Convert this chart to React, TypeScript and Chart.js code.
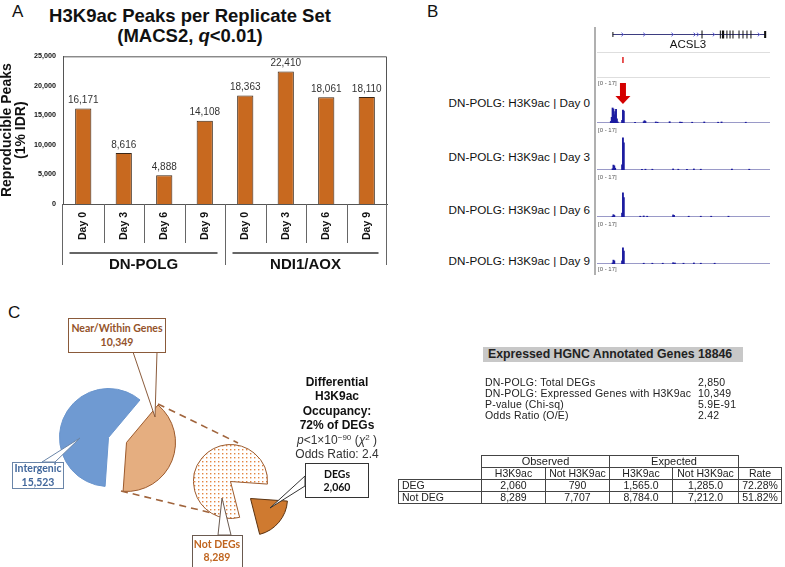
import React, { useEffect, useRef } from 'react';
import { Chart, registerables } from 'chart.js';

Chart.register(...registerables);

const FONT = '"Liberation Sans", Arial, Helvetica, sans-serif';
const CALLOUT_FONT = 'Lato, "Open Sans", sans-serif';
Chart.defaults.font.family = FONT;

// ---------------- Panel A data ----------------
const DAY_LABELS = ['Day 0', 'Day 3', 'Day 6', 'Day 9', 'Day 0', 'Day 3', 'Day 6', 'Day 9'];
const GROUP_LABELS = ['DN-POLG', 'NDI1/AOX'];
const GROUP_SIZE = 4;
const PEAK_COUNTS = [16171, 8616, 4888, 14108, 18363, 22410, 18061, 18110];
const Y_TICKS = [0, 5000, 10000, 15000, 20000, 25000];
const Y_TITLE = ['Reproducible Peaks', '(1% IDR)'];

// ---------------- Panel B data ----------------
const TRACK_LABELS = [
  'DN-POLG: H3K9ac | Day 0',
  'DN-POLG: H3K9ac | Day 3',
  'DN-POLG: H3K9ac | Day 6',
  'DN-POLG: H3K9ac | Day 9',
];
const TRACK_RANGE = '[0 - 17]';
const TRACK_MAX = 17;
const REGION_MIN = 0;
const REGION_MAX = 100;
const GENE_NAME = 'ACSL3';
const GENE_SPAN = [9.1, 97.6];
// [start, end, height]
const GENE_EXONS = [
  [8.9, 9.4, 5], [60.4, 61.0, 8], [71.0, 71.6, 8], [72.2, 73.5, 8], [74.8, 75.4, 8],
  [76.6, 77.2, 8], [78.3, 78.9, 8], [81.8, 82.3, 8], [84.1, 84.6, 8], [86.4, 86.9, 8],
  [88.7, 89.2, 8], [96.6, 97.8, 7],
];
const GENE_ARROWS = [14.7, 27.3, 43.6, 56.4, 58.3, 67.5, 93.5];
const PEAK_CALLS = [15];
const ARROW_AT = 15;
const DAY0_SIGNAL = [
  [8, 0.6], [8.5, 2.2], [9, 5.8], [9.5, 5.4], [10, 3.2], [10.5, 4.4], [11, 5.3], [11.5, 1.6], [12, 0.4],
  [14.5, 1.0], [15, 5.0], [15.5, 4.6], [22, 0.3], [27, 0.5], [27.5, 0.9], [28, 0.6], [34, 0.4], [35, 0.3],
  [42, 0.5], [48, 0.4], [49, 0.3], [55, 0.3], [62, 0.4], [70, 0.3], [72, 0.4], [86, 0.3],
];
const DAY3_SIGNAL = [
  [9, 0.5], [9.5, 1.9], [10, 1.6], [10.5, 0.7], [14.5, 2.0], [15, 12.4], [15.5, 10.5],
  [26, 0.3], [28, 0.3], [32, 0.3], [44, 0.4], [47, 0.3], [52, 0.3], [56, 0.4], [60, 0.3], [78, 0.4], [88, 0.3],
];
const DAY6_SIGNAL = [
  [9, 0.3], [9.5, 0.9], [10, 0.6], [14.5, 1.5], [15, 9.3], [15.5, 7.5],
  [25, 0.3], [27, 0.4], [29, 0.3], [44, 0.8], [44.5, 0.6], [53, 0.3], [60, 0.3], [66, 0.3], [76, 0.3],
];
const DAY9_SIGNAL = [
  [9, 0.4], [9.5, 1.5], [10, 1.2], [14.5, 1.2], [15, 6.2], [15.5, 5.0],
  [27, 0.3], [32, 0.3], [38, 0.3], [44, 0.5], [45, 0.4], [50, 0.3], [56, 0.4], [60, 0.3], [68, 0.3],
];
const TRACK_SIGNALS = [DAY0_SIGNAL, DAY3_SIGNAL, DAY6_SIGNAL, DAY9_SIGNAL];

// ---------------- Panel C data ----------------
const PIE1_LABELS = ['Near/Within Genes', 'Intergenic'];
const PIE1_VALUES = [10349, 15523];
const PIE2_LABELS = ['DEGs', 'Not DEGs'];
const PIE2_VALUES = [2060, 8289];
const STATS_HEADER = 'Expressed HGNC Annotated Genes 18846';
const STATS_LABELS = [
  'DN-POLG: Total DEGs',
  'DN-POLG: Expressed Genes with H3K9ac',
  'P-value (Chi-sq)',
  'Odds Ratio (O/E)',
];
const STATS_VALUES = ['2,850', '10,349', '5.9E-91', '2.42'];
const TABLE_ROWS = ['DEG', 'Not DEG'];
const OBS_H3K9AC = ['2,060', '8,289'];
const OBS_NOT = ['790', '7,707'];
const EXP_H3K9AC = ['1,565.0', '8,784.0'];
const EXP_NOT = ['1,285.0', '7,212.0'];
const RATE = ['72.28%', '51.82%'];

// ---------------- helpers ----------------
type MakeCfg = (c: HTMLCanvasElement) => any;

function ChartBox({ x, y, w, h, make }: { x: number; y: number; w: number; h: number; make: MakeCfg }) {
  const ref = useRef<HTMLCanvasElement>(null);
  useEffect(() => {
    const c = ref.current as HTMLCanvasElement;
    const chart = new Chart(c, make(c));
    return () => chart.destroy();
  }, []);
  return (
    <div style={{ position: 'absolute', left: x, top: y, width: w, height: h }}>
      <canvas ref={ref} width={w} height={h} style={{ width: w, height: h, display: 'block' }} />
    </div>
  );
}

function Txt(props: any) {
  const { x, y, size = 12, weight = 'normal', align = 'left', color = '#111', family = FONT, style = {}, children } = props;
  const tx = align === 'center' ? '-50%' : align === 'right' ? '-100%' : '0';
  return (
    <div
      style={{
        position: 'absolute', left: x, top: y, transform: `translate(${tx},-50%)`, fontSize: size,
        fontWeight: weight, color, fontFamily: family, whiteSpace: 'nowrap', lineHeight: 1, ...style,
      }}
    >
      {children}
    </div>
  );
}

// ---------------- Panel A chart ----------------
const panelAPlugin = {
  id: 'panelA',
  afterDraw(chart: any) {
    const { ctx, chartArea: a } = chart;
    const x = chart.scales.x;
    const n = DAY_LABELS.length;
    ctx.save();
    ctx.strokeStyle = '#555';
    ctx.lineWidth = 1;
    ctx.beginPath();
    ctx.moveTo(a.left, a.top + 0.5);
    ctx.lineTo(a.right - 0.5, a.top + 0.5);
    ctx.lineTo(a.right - 0.5, a.bottom);
    ctx.stroke();
    const bound = (i: number) =>
      i === 0 ? a.left - 0.5 : i === n ? a.right - 0.5 : Math.round((x.getPixelForValue(i - 1) + x.getPixelForValue(i)) / 2) + 0.5;
    ctx.strokeStyle = '#666';
    for (let i = 0; i <= n; i++) {
      const bx = bound(i);
      const len = i % GROUP_SIZE === 0 ? 61 : 39;
      ctx.beginPath();
      ctx.moveTo(bx, a.bottom);
      ctx.lineTo(bx, a.bottom + len);
      ctx.stroke();
    }
    // group lines + labels
    for (let g = 0; g < GROUP_LABELS.length; g++) {
      const x0 = bound(g * GROUP_SIZE) + 7;
      const x1 = bound((g + 1) * GROUP_SIZE) - 8;
      ctx.strokeStyle = '#333';
      ctx.lineWidth = 1.5;
      ctx.beginPath();
      ctx.moveTo(x0, a.bottom + 49);
      ctx.lineTo(x1, a.bottom + 49);
      ctx.stroke();
      ctx.fillStyle = '#111';
      ctx.font = `bold 15px ${FONT}`;
      ctx.textAlign = 'center';
      ctx.textBaseline = 'middle';
      ctx.fillText(GROUP_LABELS[g], (x0 + x1) / 2, a.bottom + 61);
    }
    // value labels
    const meta = chart.getDatasetMeta(0);
    ctx.fillStyle = '#333';
    ctx.font = `10px ${FONT}`;
    ctx.textAlign = 'center';
    ctx.textBaseline = 'bottom';
    meta.data.forEach((el: any, i: number) => {
      ctx.fillText(PEAK_COUNTS[i].toLocaleString('en-US'), el.x, el.y - 3);
    });
    ctx.restore();
  },
};

const makeBarChart: MakeCfg = () => ({
  type: 'bar',
  data: {
    labels: DAY_LABELS,
    datasets: [
      {
        data: PEAK_COUNTS,
        backgroundColor: '#C8691F',
        borderColor: '#3a2616',
        borderWidth: 1,
        barPercentage: 0.4,
        categoryPercentage: 1,
      },
    ],
  },
  options: {
    animation: false,
    responsive: false,
    maintainAspectRatio: false,
    layout: { padding: { top: 9, right: 5, left: 0, bottom: 0 } },
    plugins: { legend: { display: false }, tooltip: { enabled: false } },
    scales: {
      x: {
        grid: { display: false, drawTicks: false },
        border: { display: true, color: '#555', width: 1 },
        ticks: { maxRotation: 90, minRotation: 90, padding: 8, autoSkip: false, color: '#111', font: { size: 10.5, weight: 'bold' } },
        afterFit: (s: any) => { s.height = 71; },
      },
      y: {
        min: Y_TICKS[0],
        max: Y_TICKS[Y_TICKS.length - 1],
        ticks: { stepSize: Y_TICKS[1] - Y_TICKS[0], padding: 7, color: '#111', font: { size: 7.2, weight: 'bold' } },
        grid: { display: false, drawTicks: false },
        border: { display: true, color: '#555', width: 1 },
        title: { display: true, text: Y_TITLE, color: '#111', font: { size: 14, weight: 'bold', lineHeight: 1 }, padding: { top: 0, bottom: 0 } },
        afterFit: (s: any) => { s.width = 63; },
      },
    },
  },
  plugins: [panelAPlugin],
});

// ---------------- Panel B charts ----------------
const genePlugin = {
  id: 'gene',
  afterDraw(chart: any) {
    const { ctx, width } = chart;
    const x = chart.scales.x;
    const px = (v: number) => x.getPixelForValue(v);
    ctx.save();
    ctx.strokeStyle = '#dedede';
    ctx.lineWidth = 1;
    [25.5, 50.5].forEach((yy) => {
      ctx.beginPath();
      ctx.moveTo(0, yy);
      ctx.lineTo(width, yy);
      ctx.stroke();
    });
    const gy = 7.5;
    ctx.strokeStyle = '#3d3d80';
    ctx.beginPath();
    ctx.moveTo(px(GENE_SPAN[0]), gy);
    ctx.lineTo(px(GENE_SPAN[1]), gy);
    ctx.stroke();
    ctx.strokeStyle = '#5a5ad8';
    GENE_ARROWS.forEach((a) => {
      const ax = px(a);
      ctx.beginPath();
      ctx.moveTo(ax - 1, gy - 1.8);
      ctx.lineTo(ax + 1, gy);
      ctx.lineTo(ax - 1, gy + 1.8);
      ctx.stroke();
    });
    ctx.fillStyle = '#111';
    GENE_EXONS.forEach(([s, e, h]) => {
      ctx.fillRect(px(s), gy - h / 2, Math.max(1, px(e) - px(s)), h);
    });
    ctx.fillStyle = '#e02020';
    PEAK_CALLS.forEach((p) => ctx.fillRect(px(p) - 0.75, 30, 1.5, 6));
    ctx.restore();
  },
};

const makeGeneChart: MakeCfg = () => ({
  type: 'scatter',
  data: { datasets: [{ data: [] }] },
  options: {
    animation: false,
    responsive: false,
    layout: { padding: 0 },
    plugins: { legend: { display: false }, tooltip: { enabled: false } },
    scales: {
      x: { type: 'linear', min: REGION_MIN, max: REGION_MAX, display: false },
      y: { min: 0, max: 1, display: false },
    },
  },
  plugins: [genePlugin],
});

const makeTrackChart = (idx: number): MakeCfg => () => ({
  type: 'bar',
  data: {
    datasets: [
      {
        data: TRACK_SIGNALS[idx].map(([x, y]) => ({ x, y })),
        backgroundColor: '#1c1ca0',
        borderWidth: 0,
        barThickness: 1.2,
      },
    ],
  },
  options: {
    animation: false,
    responsive: false,
    layout: { padding: 0 },
    plugins: { legend: { display: false }, tooltip: { enabled: false } },
    scales: {
      x: { type: 'linear', min: REGION_MIN, max: REGION_MAX, offset: false, display: false },
      y: { min: 0, max: TRACK_MAX, display: false },
    },
  },
  plugins: [
    {
      id: 'track' + idx,
      beforeDatasetsDraw(chart: any) {
        const { ctx, chartArea: a } = chart;
        ctx.save();
        ctx.strokeStyle = '#9a9ac8';
        ctx.lineWidth = 1;
        ctx.beginPath();
        ctx.moveTo(a.left, a.bottom - 0.5);
        ctx.lineTo(a.right, a.bottom - 0.5);
        ctx.stroke();
        ctx.fillStyle = '#555';
        ctx.font = `6px ${FONT}`;
        ctx.textAlign = 'left';
        ctx.textBaseline = 'top';
        ctx.fillText(TRACK_RANGE, 1, 1);
        ctx.restore();
      },
      afterDatasetsDraw(chart: any) {
        if (idx !== 0) return;
        const { ctx } = chart;
        const ax = chart.scales.x.getPixelForValue(ARROW_AT);
        ctx.save();
        ctx.fillStyle = '#d40000';
        ctx.fillRect(ax - 3, 4, 6, 14);
        ctx.beginPath();
        ctx.moveTo(ax - 7.5, 17);
        ctx.lineTo(ax + 7.5, 17);
        ctx.lineTo(ax, 25);
        ctx.closePath();
        ctx.fill();
        ctx.restore();
      },
    },
  ],
});

// ---------------- Panel C pies ----------------
const makePie = (
  values: number[], labels: string[], colors: any[], borders: string[], show: number, rotation: number, dotted: number,
): MakeCfg => (c) => {
  const bg = colors.slice();
  if (dotted >= 0) {
    const pc = document.createElement('canvas');
    pc.width = 4;
    pc.height = 4;
    const g = pc.getContext('2d') as CanvasRenderingContext2D;
    g.fillStyle = '#ffffff';
    g.fillRect(0, 0, 4, 4);
    g.fillStyle = '#e3843f';
    g.fillRect(1, 1, 1.4, 1.4);
    const ctx = c.getContext('2d') as CanvasRenderingContext2D;
    bg[dotted] = ctx.createPattern(pc, 'repeat');
  }
  return {
    type: 'pie',
    data: {
      labels,
      datasets: [
        {
          data: values,
          backgroundColor: bg.map((col, i) => (i === show ? col : 'rgba(0,0,0,0)')),
          borderColor: borders.map((col, i) => (i === show ? col : 'rgba(0,0,0,0)')),
          borderWidth: values.map((_, i) => (i === show ? 1 : 0)),
          hoverOffset: 0,
        },
      ],
    },
    options: {
      animation: false,
      responsive: false,
      rotation,
      layout: { padding: 0 },
      plugins: { legend: { display: false }, tooltip: { enabled: false } },
    },
  };
};

const PIE1_COLORS = ['#E5AE80', '#6F9AD2'];
const PIE1_BORDERS = ['#9C5A2C', '#6A95CD'];
const PIE2_COLORS = ['#CF7A30', '#ffffff'];
const PIE2_BORDERS = ['#5a3210', '#9C5A2C'];

const cell: React.CSSProperties = { border: '1px solid #444', padding: 0, textAlign: 'center', height: 11, lineHeight: '11px' };
const noCell: React.CSSProperties = { border: 'none', padding: 0 };

export default function App() {
  return (
    <div
      style={{
        position: 'absolute', left: 0, top: 0, width: 785, height: 567, background: '#fff', overflow: 'hidden',
        fontFamily: FONT, color: '#111',
      }}
    >
      {/* Panel A */}
      <Txt x={12} y={11} size={17}>A</Txt>
      <Txt x={190} y={16} size={18.5} weight="bold" align="center">H3K9ac Peaks per Replicate Set</Txt>
      <Txt x={190} y={36} size={18.5} weight="bold" align="center">
        (MACS2, <i>q</i>&lt;0.01)
      </Txt>
      <ChartBox x={0} y={45} w={392} h={230} make={makeBarChart} />

      {/* Panel B */}
      <Txt x={427} y={11} size={17}>B</Txt>
      <div style={{ position: 'absolute', left: 594, top: 27, width: 2, height: 248, background: '#b0b0b0' }} />
      <ChartBox x={597} y={27} w={173} h={52} make={makeGeneChart} />
      <Txt x={688} y={45} size={11.5} align="center">{GENE_NAME}</Txt>
      {[79, 126, 173, 220].map((t, i) => (
        <ChartBox key={i} x={597} y={t} w={173} h={44} make={makeTrackChart(i)} />
      ))}
      {[103, 157, 210, 261].map((yy, i) => (
        <Txt key={i} x={590} y={yy} size={11.7} align="right">{TRACK_LABELS[i]}</Txt>
      ))}
      <div style={{ position: 'absolute', left: 598, top: 266, fontSize: 6, color: '#555', lineHeight: 1 }}>{TRACK_RANGE}</div>

      {/* Panel C */}
      <Txt x={8} y={312} size={17}>C</Txt>
      <ChartBox x={58.5} y={387.5} w={99} h={99} make={makePie(PIE1_VALUES, PIE1_LABELS, PIE1_COLORS, PIE1_BORDERS, 1, 40, -1)} />
      <ChartBox x={76.5} y={392.5} w={99} h={99} make={makePie(PIE1_VALUES, PIE1_LABELS, PIE1_COLORS, PIE1_BORDERS, 0, 40, -1)} />
      <ChartBox x={192.5} y={443.5} w={75} h={75} make={makePie(PIE2_VALUES, PIE2_LABELS, PIE2_COLORS, PIE2_BORDERS, 1, 94, 1)} />
      <ChartBox x={212.5} y={460.5} w={75} h={75} make={makePie(PIE2_VALUES, PIE2_LABELS, PIE2_COLORS, PIE2_BORDERS, 0, 94, -1)} />

      <svg width={785} height={567} style={{ position: 'absolute', left: 0, top: 0, pointerEvents: 'none' }}>
        <g stroke="#a0643c" strokeWidth={1.6} strokeDasharray="7 5" fill="none">
          <line x1={158} y1={404} x2={238} y2={443} />
          <line x1={121} y1={491} x2={216} y2={514} />
        </g>
        {/* Near/Within callout */}
        <polygon points="133,352 155,417 157,352" fill="#fff" stroke="#8a5a3a" strokeWidth={1} />
        <rect x={68.5} y={318.5} width={97} height={34} fill="#fff" stroke="#8a5a3a" strokeWidth={1} />
        {/* Intergenic callout */}
        <polygon points="42,462 80,438 55,462" fill="#fff" stroke="#6a85a8" strokeWidth={1} />
        <rect x={12.5} y={462.5} width={51} height={26} fill="#fff" stroke="#6a85a8" strokeWidth={1} />
        {/* Not DEGs callout */}
        <polygon points="218,535 222,498 231,535" fill="#fff" stroke="#6a5a50" strokeWidth={1} />
        <rect x={192.5} y={535.5} width={50} height={33} fill="#fff" stroke="#6a5a50" strokeWidth={1} />
        {/* DEGs callout */}
        <polygon points="305,476 270,508 305,486" fill="#fff" stroke="#333" strokeWidth={1} />
        <rect x={305.5} y={463.5} width={63} height={34} fill="#fff" stroke="#333" strokeWidth={1} />
      </svg>

      <Txt x={117} y={328} size={10.5} weight="bold" align="center" color="#94532a" family={CALLOUT_FONT}>{PIE1_LABELS[0]}</Txt>
      <Txt x={117} y={342} size={10.5} weight="bold" align="center" color="#94532a" family={CALLOUT_FONT}>{PIE1_VALUES[0].toLocaleString('en-US')}</Txt>
      <Txt x={38} y={468} size={10.5} weight="bold" align="center" color="#41679c" family={CALLOUT_FONT}>{PIE1_LABELS[1]}</Txt>
      <Txt x={38} y={482} size={10.5} weight="bold" align="center" color="#41679c" family={CALLOUT_FONT}>{PIE1_VALUES[1].toLocaleString('en-US')}</Txt>
      <Txt x={217} y={544} size={10.5} weight="bold" align="center" color="#c0651f" family={CALLOUT_FONT}>{PIE2_LABELS[1]}</Txt>
      <Txt x={217} y={557} size={10.5} weight="bold" align="center" color="#c0651f" family={CALLOUT_FONT}>{PIE2_VALUES[1].toLocaleString('en-US')}</Txt>
      <Txt x={337} y={474} size={10.5} weight="bold" align="center" color="#111" family={CALLOUT_FONT}>{PIE2_LABELS[0]}</Txt>
      <Txt x={337} y={487} size={10.5} weight="bold" align="center" color="#111" family={CALLOUT_FONT}>{PIE2_VALUES[0].toLocaleString('en-US')}</Txt>

      <Txt x={337} y={382} size={12} weight="bold" align="center">Differential</Txt>
      <Txt x={337} y={396} size={12} weight="bold" align="center">H3K9ac</Txt>
      <Txt x={337} y={410.5} size={12} weight="bold" align="center">Occupancy:</Txt>
      <Txt x={337} y={425} size={12} weight="bold" align="center">72% of DEGs</Txt>
      <Txt x={337} y={440} size={12} align="center" color="#333">
        <i>p</i>&lt;1×10<sup style={{ fontSize: 8, verticalAlign: 4 }}>−90</sup> (<i>χ</i><sup style={{ fontSize: 8, verticalAlign: 4 }}>2</sup> )
      </Txt>
      <Txt x={337} y={454} size={12} align="center" color="#333">Odds Ratio: 2.4</Txt>

      {/* Stats */}
      <div
        style={{
          position: 'absolute', left: 483, top: 347, width: 260, height: 15, background: '#c8c8c8',
          fontSize: 12.3, fontWeight: 'bold', lineHeight: '15px', paddingLeft: 5, boxSizing: 'border-box', color: '#222', whiteSpace: 'nowrap',
        }}
      >
        {STATS_HEADER}
      </div>
      {STATS_LABELS.map((s, i) => (
        <React.Fragment key={i}>
          <Txt x={485} y={382 + i * 11} size={10.5} color="#222" style={{ letterSpacing: 0.2 }}>{s}</Txt>
          <Txt x={698} y={382 + i * 11} size={10.5} color="#222" style={{ letterSpacing: 0.2 }}>{STATS_VALUES[i]}</Txt>
        </React.Fragment>
      ))}

      <table
        style={{
          position: 'absolute', left: 398, top: 455, width: 383, borderCollapse: 'collapse', tableLayout: 'fixed',
          fontFamily: FONT, fontSize: 10.5, color: '#222',
        }}
      >
        <colgroup>
          {[83, 64, 64, 63, 66, 43].map((w, i) => (
            <col key={i} style={{ width: w }} />
          ))}
        </colgroup>
        <tbody>
          <tr>
            <td style={noCell} />
            <td colSpan={2} style={{ ...cell, fontSize: 11 }}>Observed</td>
            <td colSpan={2} style={{ ...cell, fontSize: 11 }}>Expected</td>
            <td style={noCell} />
          </tr>
          <tr>
            <td style={noCell} />
            <td style={cell}>H3K9ac</td>
            <td style={cell}>Not H3K9ac</td>
            <td style={cell}>H3K9ac</td>
            <td style={cell}>Not H3K9ac</td>
            <td style={cell}>Rate</td>
          </tr>
          {TABLE_ROWS.map((r, i) => (
            <tr key={i}>
              <td style={{ ...cell, textAlign: 'left', paddingLeft: 3 }}>{r}</td>
              <td style={cell}>{OBS_H3K9AC[i]}</td>
              <td style={cell}>{OBS_NOT[i]}</td>
              <td style={cell}>{EXP_H3K9AC[i]}</td>
              <td style={cell}>{EXP_NOT[i]}</td>
              <td style={cell}>{RATE[i]}</td>
            </tr>
          ))}
        </tbody>
      </table>
    </div>
  );
}
